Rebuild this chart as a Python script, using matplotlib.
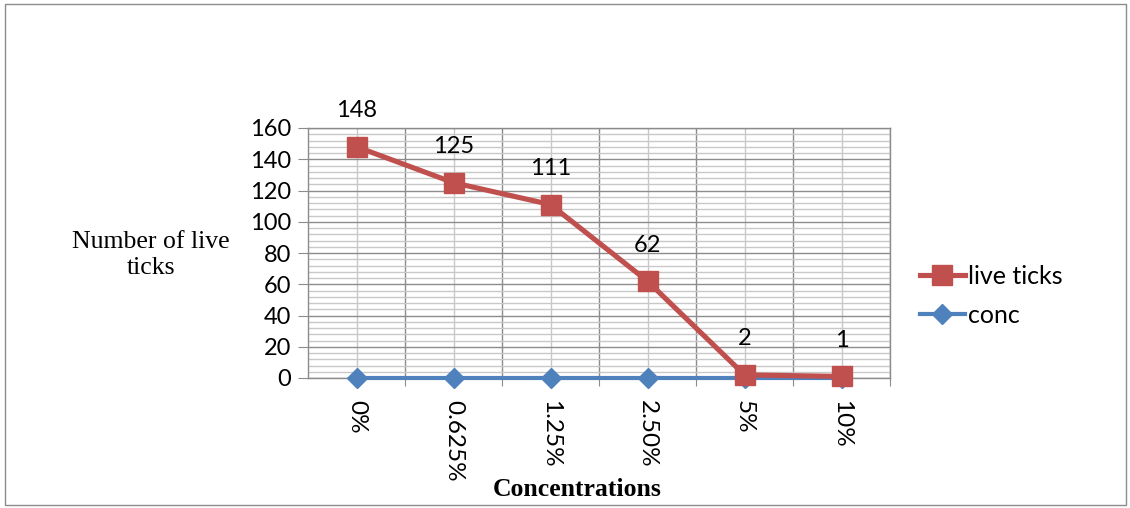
import matplotlib.pyplot as plt
import numpy as np
from matplotlib.patches import Rectangle

concentrations = ["0%", "0.625%", "1.25%", "2.50%", "5%", "10%"]
live_ticks = [148, 125, 111, 62, 2, 1]
conc = [0, 0, 0, 0, 0, 0]

red = "#C0504D"
blue = "#4F81BD"
major_grid = "#8C8C8C"
minor_grid = "#C8C8C8"

plt.rcParams["font.family"] = ["Lato", "DejaVu Sans"]

fig = plt.figure(figsize=(11.3, 5.08), dpi=100)
ax = fig.add_axes([308 / 1130, 1 - 378 / 508, (890 - 308) / 1130, 250 / 508])

x = np.arange(len(concentrations))

ax.plot(x, conc, color=blue, lw=3, marker="D", markersize=10, label="conc",
        zorder=5, clip_on=False)
ax.plot(x, live_ticks, color=red, lw=3.7, marker="s", markersize=14,
        label="live ticks", zorder=6, clip_on=False)

for xi, v in zip(x, live_ticks):
    ax.annotate(str(v), (xi, v), xytext=(0, 26), textcoords="offset points",
                ha="center", va="center", fontsize=17)

ax.set_xlim(-0.5, len(concentrations) - 0.5)
ax.set_ylim(0, 160)
ax.set_yticks(np.arange(0, 161, 20))
ax.set_yticks(np.arange(0, 161, 4), minor=True)
ax.set_xticks(x + 0.5, minor=False)
ax.set_xticks(x, minor=True)
ax.set_xticklabels([])
ax.tick_params(axis="y", which="major", length=7, color=major_grid, labelsize=17, pad=5)
ax.tick_params(axis="y", which="minor", length=0)
ax.tick_params(axis="x", which="major", length=6, color=major_grid)
ax.tick_params(axis="x", which="minor", length=0, labelsize=17.5, pad=16)
ax.set_xticklabels(concentrations, minor=True, rotation=-90, va="top", ha="center")

ax.grid(True, which="major", axis="both", color=major_grid, lw=1)
ax.grid(True, which="minor", axis="both", color=minor_grid, lw=1)
ax.set_axisbelow(True)
for s in ax.spines.values():
    s.set_color(major_grid)
    s.set_linewidth(1)

ax.set_ylabel("Number of live\nticks", family=["Liberation Serif"], fontsize=18.5,
              rotation=0, ha="center", va="center", labelpad=0, linespacing=1.25)
ax.yaxis.set_label_coords((151 - 308) / 582, (378 - 255) / 250)
ax.set_xlabel("Concentrations", family=["Liberation Serif"], fontsize=18.5,
              fontweight="bold")
ax.xaxis.set_label_coords((577 - 308) / 582, -(478 - 378) / 250)

handles, labels = ax.get_legend_handles_labels()
fig.legend(handles[::-1], labels[::-1], loc="center left",
           bbox_to_anchor=(897 / 1130, 1 - 296 / 508), frameon=False,
           fontsize=18, handlelength=1.8, labelspacing=0.65, handletextpad=0.15)

fig.patches.append(Rectangle((5 / 1130, 3 / 508), 1121 / 1130, 501 / 508,
                             transform=fig.transFigure, fill=False,
                             edgecolor="#8C8C8C", lw=1))

fig.savefig("out.png", dpi=100)
